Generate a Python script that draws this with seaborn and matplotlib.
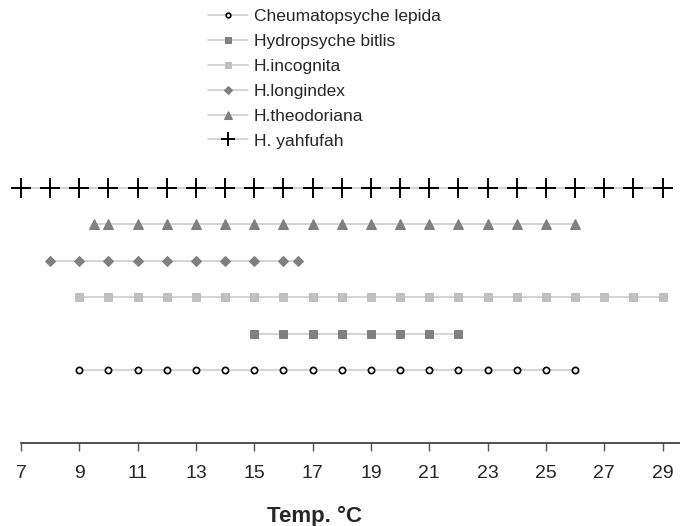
import numpy as np
import pandas as pd
import matplotlib
matplotlib.use("Agg")
import matplotlib.pyplot as plt
import seaborn as sns

# 各物种的温度范围 (°C)
species = ["Cheumatopsyche lepida", "Hydropsyche bitlis", "H.incognita",
           "H.longindex", "H.theodoriana", "H. yahfufah"]
temp_lepida = [9, 10, 11, 12, 13, 14, 15, 16, 17, 18, 19, 20, 21, 22, 23, 24, 25, 26]
temp_bitlis = [15, 16, 17, 18, 19, 20, 21, 22]
temp_incognita = [9, 10, 11, 12, 13, 14, 15, 16, 17, 18, 19, 20, 21, 22, 23, 24, 25,
                  26, 27, 28, 29]
temp_longindex = [8, 9, 10, 11, 12, 13, 14, 15, 16, 16.5]
temp_theodoriana = [9.5, 10, 11, 12, 13, 14, 15, 16, 17, 18, 19, 20, 21, 22, 23, 24,
                    25, 26]
temp_yahfufah = [7, 8, 9, 10, 11, 12, 13, 14, 15, 16, 17, 18, 19, 20, 21, 22, 23, 24,
                 25, 26, 27, 28, 29]
x_ticks = [7, 9, 11, 13, 15, 17, 19, 21, 23, 25, 27, 29]

temps = [temp_lepida, temp_bitlis, temp_incognita, temp_longindex,
         temp_theodoriana, temp_yahfufah]

# 标记样式
styles = [
    dict(marker="o", markersize=4.5, markerfacecolor="white", markeredgecolor="black",
         markeredgewidth=1.2),
    dict(marker="s", markersize=5.5, markerfacecolor="#808080", markeredgecolor="#808080"),
    dict(marker="s", markersize=5.5, markerfacecolor="#c0c0c0", markeredgecolor="#c0c0c0"),
    dict(marker="D", markersize=5.2, markerfacecolor="#808080", markeredgecolor="#808080"),
    dict(marker="^", markersize=7, markerfacecolor="#808080", markeredgecolor="#808080"),
    dict(marker="+", markersize=14, markerfacecolor="black", markeredgecolor="black",
         markeredgewidth=1.4),
]

sns.set_style("white")
plt.rcParams["font.family"] = ["Liberation Sans", "DejaVu Sans"]

fig = plt.figure(figsize=(6.8, 5.26), dpi=100)
ax = fig.add_axes([21 / 680, 83 / 526, 659 / 680, 292 / 526])

for i, (name, t, st) in enumerate(zip(species, temps, styles)):
    df = pd.DataFrame({"temp": t, "row": [i + 1] * len(t)})
    sns.lineplot(data=df, x="temp", y="row", ax=ax, color="#c8c8c8", linewidth=1.1,
                 label=name, clip_on=False, **st)

ax.set_xlim(7, 29.6)
ax.set_ylim(-1, 7)
ax.set_xticks(x_ticks)
ax.set_yticks([])
ax.set_ylabel("")
ax.set_xlabel("Temp. °C", fontsize=16, fontweight="bold")
ax.xaxis.set_label_coords(0.445, -0.215)
for s in ["top", "right", "left"]:
    ax.spines[s].set_visible(False)
ax.spines["bottom"].set_color("#333333")
ax.spines["bottom"].set_linewidth(1.2)
ax.tick_params(axis="x", direction="out", length=6, width=1, color="#555555",
               labelsize=14, pad=10, bottom=True)

handles, labels = ax.get_legend_handles_labels()
ax.get_legend().remove()
fig.legend(handles, labels, loc="upper left", bbox_to_anchor=(208 / 680, 1 - 9 / 526),
           frameon=False, fontsize=12.5, handlelength=2.3, handletextpad=0.35,
           labelspacing=0.56, borderpad=0, borderaxespad=0, markerscale=0.75)

fig.savefig("out.png", dpi=100)
